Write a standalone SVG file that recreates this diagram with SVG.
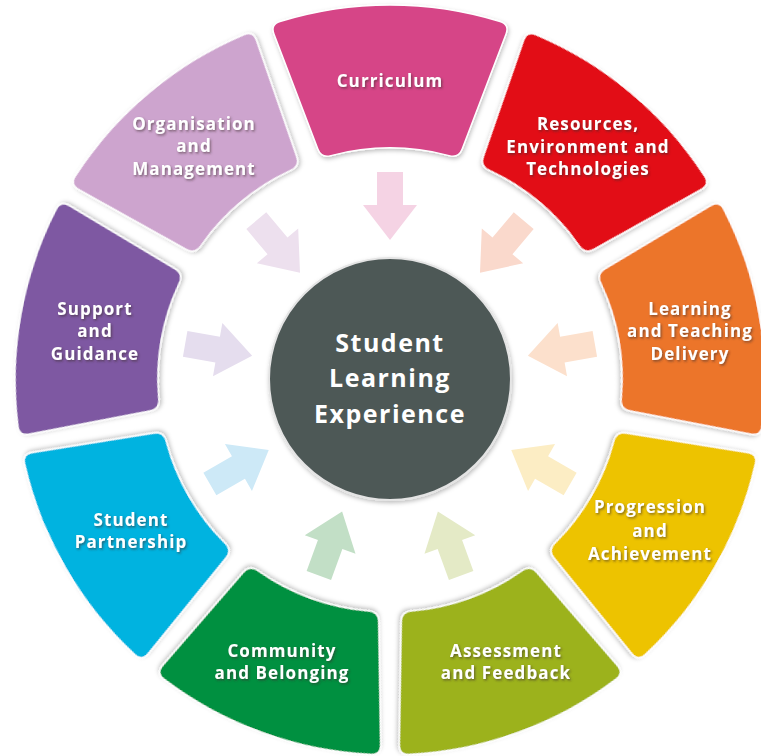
<svg xmlns="http://www.w3.org/2000/svg" width="761" height="756" viewBox="0 0 761 756">
<defs>
<style>
.lbl{font-family:"Open Sans","Liberation Sans",sans-serif;font-weight:700;font-size:17px;letter-spacing:1.1px;fill:#fff;text-anchor:middle;filter:url(#ts)}
.ctr{font-family:"Open Sans","Liberation Sans",sans-serif;font-weight:700;font-size:25px;letter-spacing:1.5px;fill:#fff;text-anchor:middle}
.seg{filter:url(#ds)}
</style>
<filter id="ds" x="-10%" y="-10%" width="120%" height="120%">
<feDropShadow dx="1" dy="2" stdDeviation="2" flood-color="#000" flood-opacity="0.25"/>
</filter>
<filter id="ts" x="-10%" y="-30%" width="120%" height="160%">
<feDropShadow dx="1.2" dy="1.5" stdDeviation="1" flood-color="#3a2a2a" flood-opacity="0.6"/>
</filter>
<path id="sector" d="M 273.95 33.93 Q 270.39 24.59 279.93 21.52 A 375 375 0 0 1 500.07 21.52 Q 509.61 24.59 506.05 33.93 L 462.16 149.04 Q 458.60 158.38 448.99 155.62 A 232 232 0 0 0 331.01 155.62 Q 321.40 158.38 317.84 149.04 Z" stroke="#fff" stroke-width="1.5"/>
<polygon id="arrow" points="377,172 403,172 403,205 417,205 390,240 363,205 377,205"/>
</defs>
<rect width="761" height="756" fill="#fff"/>

<g id="connectors">
<use href="#arrow" fill="#F5D3E4" transform="rotate(0 390 380)"/>
<use href="#arrow" fill="#FAD9CC" transform="rotate(40 390 380)"/>
<use href="#arrow" fill="#FCE0CC" transform="rotate(80 390 380)"/>
<use href="#arrow" fill="#FCEDC4" transform="rotate(120 390 380)"/>
<use href="#arrow" fill="#E4EAC6" transform="rotate(160 390 380)"/>
<use href="#arrow" fill="#C2DFC6" transform="rotate(200 390 380)"/>
<use href="#arrow" fill="#CDE9F7" transform="rotate(240 390 380)"/>
<use href="#arrow" fill="#E5DDEE" transform="rotate(280 390 380)"/>
<use href="#arrow" fill="#EDE0EE" transform="rotate(320 390 380)"/>
</g>

<g id="curriculum">
<use href="#sector" class="seg" fill="#D64587" transform="rotate(0 390 380)"/>
<text class="lbl" x="390" y="87">Curriculum</text>
</g>
<g id="resources">
<use href="#sector" class="seg" fill="#E20A17" transform="rotate(40 390 380)"/>
<text class="lbl" x="588" y="130">Resources,</text>
<text class="lbl" x="588" y="153">Environment and</text>
<text class="lbl" x="588" y="175">Technologies</text>
</g>
<g id="learning-teaching">
<use href="#sector" class="seg" fill="#EC7429" transform="rotate(80 390 380)"/>
<text class="lbl" x="690" y="315">Learning</text>
<text class="lbl" x="690" y="337">and Teaching</text>
<text class="lbl" x="690" y="360">Delivery</text>
</g>
<g id="progression">
<use href="#sector" class="seg" fill="#EDC300" transform="rotate(120 390 380)"/>
<text class="lbl" x="650" y="513">Progression</text>
<text class="lbl" x="650" y="537">and</text>
<text class="lbl" x="650" y="560">Achievement</text>
</g>
<g id="assessment">
<use href="#sector" class="seg" fill="#9CB21E" transform="rotate(160 390 380)"/>
<text class="lbl" x="506" y="657">Assessment</text>
<text class="lbl" x="506" y="679">and Feedback</text>
</g>
<g id="community">
<use href="#sector" class="seg" fill="#00903F" transform="rotate(200 390 380)"/>
<text class="lbl" x="282" y="657">Community</text>
<text class="lbl" x="282" y="679">and Belonging</text>
</g>
<g id="student-partnership">
<use href="#sector" class="seg" fill="#00B3E0" transform="rotate(240 390 380)"/>
<text class="lbl" x="131" y="526">Student</text>
<text class="lbl" x="131" y="548">Partnership</text>
</g>
<g id="support">
<use href="#sector" class="seg" fill="#7E58A2" transform="rotate(280 390 380)"/>
<text class="lbl" x="95" y="315">Support</text>
<text class="lbl" x="95" y="337">and</text>
<text class="lbl" x="95" y="360">Guidance</text>
</g>
<g id="organisation">
<use href="#sector" class="seg" fill="#CDA4CE" transform="rotate(320 390 380)"/>
<text class="lbl" x="194" y="130">Organisation</text>
<text class="lbl" x="194" y="152">and</text>
<text class="lbl" x="194" y="175">Management</text>
</g>

<g id="center">
<circle cx="390" cy="379" r="121" fill="#4E5857" stroke="#e4e4e4" stroke-width="2" filter="url(#ds)"/>
<text class="ctr" x="390" y="352">Student</text>
<text class="ctr" x="390" y="387">Learning</text>
<text class="ctr" x="390" y="423">Experience</text>
</g>
</svg>
